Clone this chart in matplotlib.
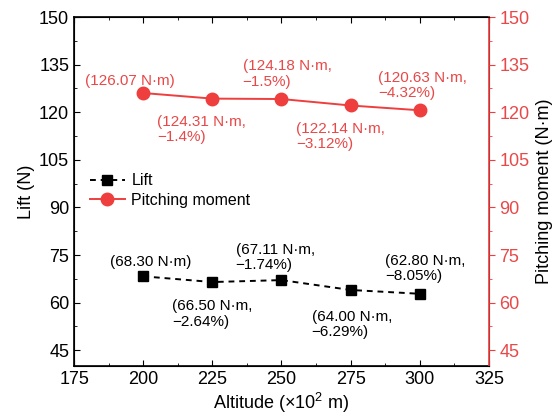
import matplotlib
matplotlib.use('Agg')
import matplotlib.pyplot as plt
from matplotlib.ticker import MultipleLocator

plt.rcParams['font.family'] = ['Liberation Sans', 'DejaVu Sans']
plt.rcParams['mathtext.fontset'] = 'custom'
plt.rcParams['mathtext.rm'] = 'Liberation Sans'
plt.rcParams['mathtext.default'] = 'regular'

altitude = [200, 225, 250, 275, 300]
lift = [68.30, 66.50, 67.11, 64.00, 62.80]
moment = [126.07, 124.31, 124.18, 122.14, 120.63]

lift_labels = ['(68.30 N\u00b7m)', '(66.50 N\u00b7m,\n\u22122.64%)', '(67.11 N\u00b7m,\n\u22121.74%)',
               '(64.00 N\u00b7m,\n\u22126.29%)', '(62.80 N\u00b7m,\n\u22128.05%)']
moment_labels = ['(126.07 N\u00b7m)', '(124.31 N\u00b7m,\n\u22121.4%)', '(124.18 N\u00b7m,\n\u22121.5%)',
                 '(122.14 N\u00b7m,\n\u22123.12%)', '(120.63 N\u00b7m,\n\u22124.32%)']

# label offsets in points (left edge, vertical centre of text block)
lift_off = [(-24, 10), (-29, -23), (-33, 16), (-28, -25), (-25, 18)]
moment_off = [(-42, 9), (-40, -22), (-28, 18), (-39, -22), (-30, 18)]

red = '#EE3E3E'
red_text = '#E84848'

fig = plt.figure(figsize=(5.53, 4.17), dpi=100)
ax = fig.add_axes([0.134, 0.122, 0.750, 0.837])
ax2 = ax.twinx()

l1, = ax.plot(altitude, lift, color='black', ls='--', marker='s', ms=7, lw=1.4,
              dashes=(3, 2.5), label='Lift')
l2, = ax2.plot(altitude, moment, color=red, ls='-', marker='o', ms=9, lw=1.4,
               label='Pitching moment')

for x, y, s, o in zip(altitude, lift, lift_labels, lift_off):
    ax.annotate(s, (x, y), xytext=o, textcoords='offset points', ha='left', va='center',
                fontsize=11, color='black', linespacing=1.1)
for x, y, s, o in zip(altitude, moment, moment_labels, moment_off):
    ax2.annotate(s, (x, y), xytext=o, textcoords='offset points', ha='left', va='center',
                 fontsize=11, color=red_text, linespacing=1.1)

ax.set_xlim(175, 325)
ax.set_ylim(40, 150)
ax2.set_ylim(40, 150)
ax.xaxis.set_major_locator(MultipleLocator(25))
ax.xaxis.set_minor_locator(MultipleLocator(12.5))
ax.yaxis.set_major_locator(MultipleLocator(15))
ax.yaxis.set_minor_locator(MultipleLocator(7.5))
ax2.yaxis.set_major_locator(MultipleLocator(15))
ax2.yaxis.set_minor_locator(MultipleLocator(7.5))

ax.tick_params(axis='both', which='both', direction='in', labelsize=13, top=True, right=False)
ax.tick_params(which='major', length=4)
ax.tick_params(which='minor', length=2.5)
ax2.tick_params(axis='y', which='both', direction='out', colors=red, labelcolor=red_text,
                labelsize=13)
ax2.tick_params(which='major', length=4)
ax2.tick_params(which='minor', length=2.5)
ax2.spines['right'].set_color(red)
ax2.spines['right'].set_linewidth(1.2)
for sp in ['left', 'top', 'bottom']:
    ax.spines[sp].set_linewidth(1.2)

ax.set_xlabel('Altitude (\u00d710$^{2}$ m)', fontsize=13, labelpad=2)
ax.set_ylabel('Lift (N)', fontsize=13, labelpad=3)
ax2.set_ylabel('Pitching moment (N\u00b7m)', fontsize=13, labelpad=5)

ax.legend([l1, l2], ['Lift', 'Pitching moment'], loc='upper left', bbox_to_anchor=(0.015, 0.58),
          frameon=False, fontsize=11.5, handlelength=2.2, handletextpad=0.4, borderaxespad=0.2,
          labelspacing=0.3)

fig.savefig('out.png', dpi=100)
